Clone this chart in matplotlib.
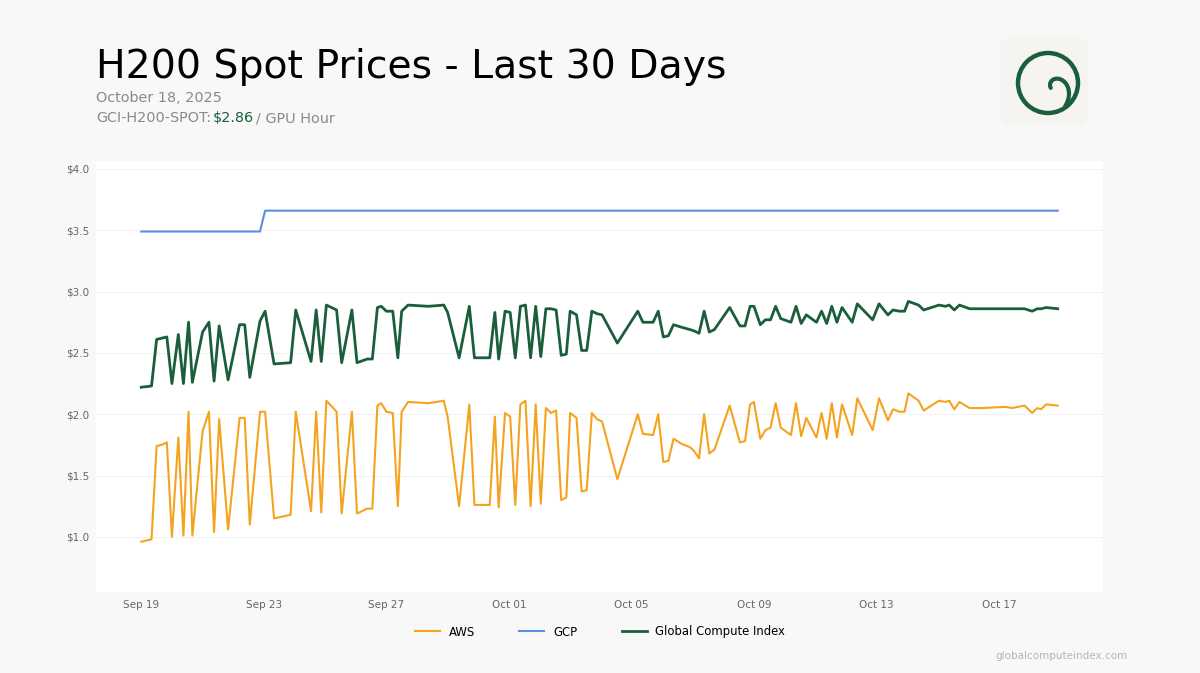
import numpy as np
import pandas as pd
import matplotlib
matplotlib.use("Agg")
import matplotlib.pyplot as plt
import matplotlib.dates as mdates
from matplotlib.patches import FancyBboxPatch, Circle

# hours since Sep 19 2025 00:00
hours = [0, 8, 12, 16, 20, 24, 29, 33, 37, 40,
         48, 53, 57, 61, 68, 77, 81, 85, 93, 97,
         104, 117, 121, 133, 137, 141, 145, 153, 157, 165,
         169, 177, 181, 185, 188, 192, 197, 201, 204, 209,
         225, 237, 240, 249, 257, 261, 273, 277, 280, 285,
         289, 293, 297, 301, 305, 309, 313, 317, 321, 325,
         329, 333, 336, 341, 345, 349, 353, 357, 361, 373,
         389, 393, 401, 405, 409, 413, 417, 423, 430, 433,
         437, 441, 445, 449, 461, 469, 473, 477, 480, 485,
         489, 493, 497, 501, 509, 513, 517, 521, 529, 533,
         537, 541, 545, 549, 557, 561, 573, 578, 585, 589,
         594, 598, 601, 609, 613, 625, 630, 633, 637, 641,
         649, 659, 677, 682, 692, 698, 702, 705, 709, 718]

aws = [0.96, 0.98, 1.74, 1.75, 1.77, 1.00, 1.81, 1.01, 2.02, 1.01,
       1.86, 2.02, 1.04, 1.96, 1.06, 1.97, 1.97, 1.10, 2.02, 2.02,
       1.15, 1.18, 2.02, 1.21, 2.02, 1.20, 2.11, 2.02, 1.19, 2.02,
       1.19, 1.23, 1.23, 2.07, 2.09, 2.02, 2.01, 1.25, 2.02, 2.10,
       2.09, 2.11, 1.98, 1.25, 2.08, 1.26, 1.26, 1.98, 1.24, 2.01,
       1.98, 1.26, 2.08, 2.11, 1.25, 2.08, 1.27, 2.05, 2.01, 2.03,
       1.30, 1.32, 2.01, 1.97, 1.37, 1.38, 2.01, 1.96, 1.94, 1.47,
       2.00, 1.84, 1.83, 2.00, 1.61, 1.62, 1.80, 1.76, 1.73, 1.70,
       1.64, 2.00, 1.68, 1.71, 2.07, 1.77, 1.78, 2.08, 2.10, 1.80,
       1.87, 1.89, 2.09, 1.89, 1.83, 2.09, 1.82, 1.97, 1.81, 2.01,
       1.80, 2.09, 1.81, 2.08, 1.83, 2.13, 1.87, 2.13, 1.95, 2.04,
       2.02, 2.02, 2.17, 2.11, 2.03, 2.11, 2.10, 2.11, 2.04, 2.10,
       2.05, 2.05, 2.06, 2.05, 2.07, 2.01, 2.05, 2.04, 2.08, 2.07]

gci = [2.22, 2.23, 2.61, 2.62, 2.63, 2.25, 2.65, 2.25, 2.75, 2.26,
       2.67, 2.75, 2.27, 2.72, 2.28, 2.73, 2.73, 2.30, 2.76, 2.84,
       2.41, 2.42, 2.85, 2.43, 2.85, 2.43, 2.89, 2.85, 2.42, 2.85,
       2.42, 2.45, 2.45, 2.87, 2.88, 2.84, 2.84, 2.46, 2.84, 2.89,
       2.88, 2.89, 2.83, 2.46, 2.88, 2.46, 2.46, 2.83, 2.45, 2.84,
       2.83, 2.46, 2.88, 2.89, 2.46, 2.88, 2.47, 2.86, 2.86, 2.85,
       2.48, 2.49, 2.84, 2.81, 2.52, 2.52, 2.84, 2.82, 2.81, 2.58,
       2.84, 2.75, 2.75, 2.84, 2.63, 2.64, 2.73, 2.71, 2.69, 2.68,
       2.66, 2.84, 2.67, 2.69, 2.87, 2.72, 2.72, 2.88, 2.88, 2.73,
       2.77, 2.77, 2.88, 2.78, 2.75, 2.88, 2.74, 2.81, 2.75, 2.84,
       2.74, 2.88, 2.75, 2.87, 2.75, 2.90, 2.77, 2.90, 2.81, 2.85,
       2.84, 2.84, 2.92, 2.89, 2.85, 2.89, 2.88, 2.89, 2.85, 2.89,
       2.86, 2.86, 2.86, 2.86, 2.86, 2.84, 2.86, 2.86, 2.87, 2.86]

gcp_hours = [0, 93, 97, 718]
gcp = [3.49, 3.49, 3.66, 3.66]

tick_dates = ["2025-09-19", "2025-09-23", "2025-09-27", "2025-10-01",
              "2025-10-05", "2025-10-09", "2025-10-13", "2025-10-17"]

start = pd.Timestamp("2025-09-19 00:00")
t = start + pd.to_timedelta(hours, unit="h")
t_gcp = start + pd.to_timedelta(gcp_hours, unit="h")

c_aws = "#f5a31f"
c_gcp = "#5b8fdf"
c_gci = "#1b5e3b"
c_grey = "#8a8a8a"
bg = "#f8f8f8"

fig = plt.figure(figsize=(12, 6.73), dpi=100, facecolor=bg)
ax = fig.add_axes([96 / 1200, 1 - 592 / 673, 1007 / 1200, 431 / 673])
ax.set_facecolor("white")

ax.plot(t, aws, color=c_aws, lw=1.5, label="AWS")
ax.plot(t_gcp, gcp, color=c_gcp, lw=1.5, label="GCP")
ax.plot(t, gci, color=c_gci, lw=2.0, label="Global Compute Index")

ax.set_ylim(0.55, 4.065)
ax.set_yticks([1.0, 1.5, 2.0, 2.5, 3.0, 3.5, 4.0])
ax.yaxis.set_major_formatter(matplotlib.ticker.FuncFormatter(lambda v, p: "$%.1f" % v))
pad = pd.Timedelta(hours=35.5)
ax.set_xlim(t[0] - pad, t[-1] + pad)
ax.set_xticks(pd.to_datetime(tick_dates))
ax.xaxis.set_major_formatter(mdates.DateFormatter("%b %d"))
ax.tick_params(length=0, labelsize=7.5, labelcolor="#666666")
ax.tick_params(axis="y", pad=5)
ax.tick_params(axis="x", pad=6)
ax.grid(axis="y", color="#f2f2f2", lw=0.8)
ax.set_axisbelow(True)
for s in ax.spines.values():
    s.set_visible(False)

leg = fig.legend(loc="center", bbox_to_anchor=(0.5, 1 - 632 / 673), ncol=3, frameon=False,
                 fontsize=8.4, handlelength=2.15, handletextpad=0.75, columnspacing=3.8)

# header
fig.text(96 / 1200, 1 - 78 / 673, "H200 Spot Prices - Last 30 Days", fontsize=28.4, color="black")
fig.text(96 / 1200, 1 - 102 / 673, "October 18, 2025", fontsize=10.4, color=c_grey)

renderer = fig.canvas.get_renderer()
x0 = 96
y_line = 1 - 122 / 673
for s, c in [("GCI-H200-SPOT:", c_grey), ("$2.86", c_gci), ("/ GPU Hour", c_grey)]:
    tx = fig.text(x0 / 1200, y_line, s, fontsize=10.4, color=c)
    x0 = tx.get_window_extent(renderer).x1 + 2

fig.text(1128 / 1200, 1 - 656 / 673, "globalcomputeindex.com", fontsize=7.5,
         color="#b5b5b5", ha="right", va="center")

# logo
lax = fig.add_axes([998 / 1200, 1 - 127 / 673, 92 / 1200, 92 / 673])
lax.set_xlim(0, 92)
lax.set_ylim(92, 0)
lax.axis("off")
lax.add_patch(FancyBboxPatch((2, 2), 88, 88, boxstyle="round,pad=0,rounding_size=12",
                             fc="#f6f4f1", ec="none"))
lax.add_patch(Circle((50, 48), 30, fill=False, ec=c_gci, lw=3.2))
phi = np.linspace(-0.5, 4.3, 200)
r = 6 + 17 * (np.clip(phi, 0, None) / 4.3) ** 4
ang = np.pi - phi
lax.plot(58 + r * np.cos(ang), 50 - r * np.sin(ang), color=c_gci, lw=3.0,
         solid_capstyle="round")

fig.savefig("out.png", dpi=100, facecolor=bg)
